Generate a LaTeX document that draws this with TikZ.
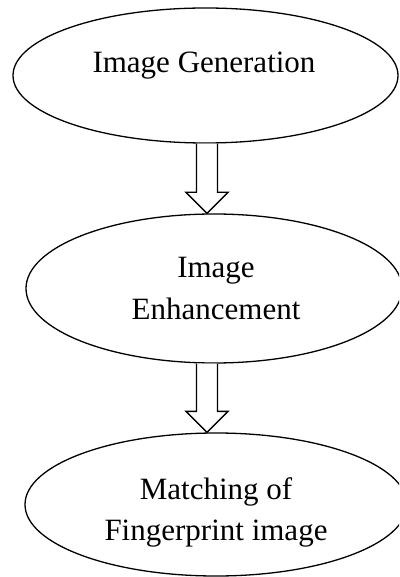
\documentclass[tikz,border=0pt]{standalone}
\usepackage{fontspec}
\setmainfont{Liberation Serif}
\usetikzlibrary{shapes.geometric,calc}
\tikzset{
  oval/.style={draw=black, line width=1.3pt, ellipse, inner sep=0pt},
  lbl/.style={font=\fontsize{31}{41}\selectfont, align=center, inner sep=0pt},
  blockarrow/.style={draw=black, line width=1.3pt, fill=white, line join=miter}
}
\begin{document}
\begin{tikzpicture}[x=1pt,y=-1pt]
\clip (0,0) rectangle (399,577);
\fill[white] (0,0) rectangle (399,577);
\node[oval, minimum width=385pt, minimum height=135pt] (e1) at (205.5,75.5) {};
\node[oval, minimum width=376pt, minimum height=149pt] (e2) at (214,288.5) {};
\node[oval, minimum width=382pt, minimum height=143pt] (e3) at (216,504.5) {};
\node[lbl] (t1) at (204,66) {Image Generation};
\node[lbl] (t2) at (216,288.5) {Image\\Enhancement};
\node[lbl] (t3) at (216,512) {Matching of\\Fingerprint image};
\path let \p1=(e1.south), \p2=(e2.north) in
  [blockarrow] (196.5pt,\y1) -- (196.5pt,\y2+21pt) -- (186pt,\y2+21pt) -- (207pt,\y2)
  -- (228pt,\y2+21pt) -- (217.5pt,\y2+21pt) -- (217.5pt,\y1);
\path let \p1=(e2.south), \p2=(e3.north) in
  [blockarrow] (196.5pt,\y1) -- (196.5pt,\y2+21pt) -- (186pt,\y2+21pt) -- (207pt,\y2)
  -- (228pt,\y2+21pt) -- (217.5pt,\y2+21pt) -- (217.5pt,\y1);
\end{tikzpicture}
\end{document}
